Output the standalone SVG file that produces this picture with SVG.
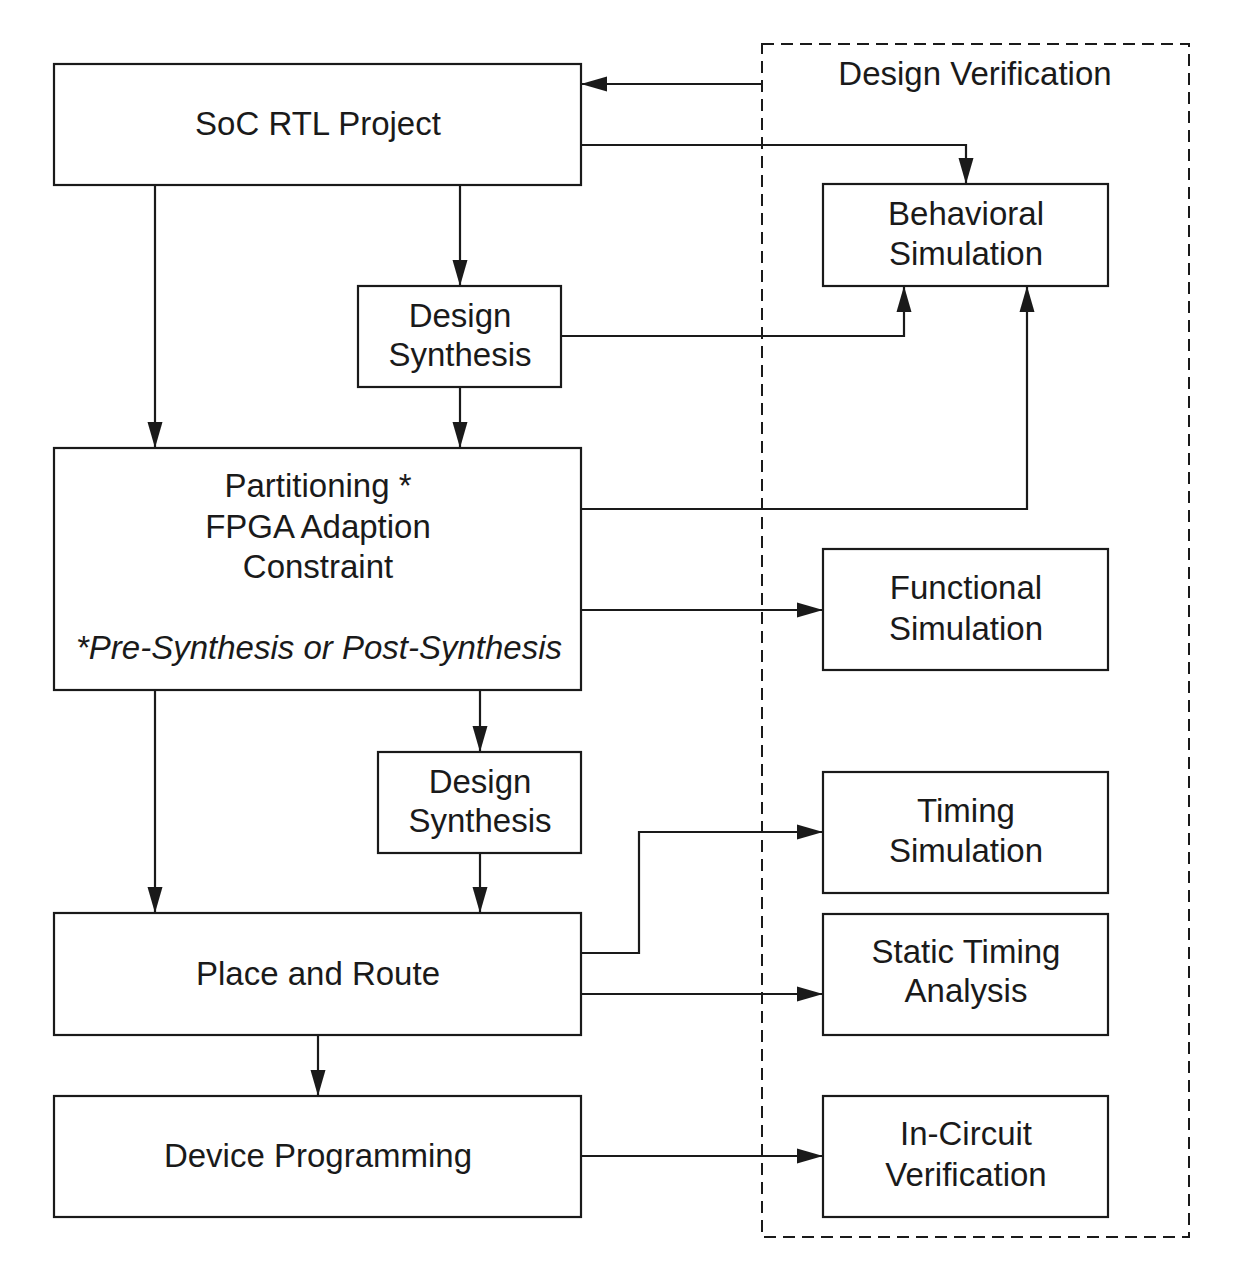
<svg xmlns="http://www.w3.org/2000/svg" width="1260" height="1277" viewBox="0 0 1260 1277">
<defs>
<style>
.box{fill:#fff;stroke:#1a1a1a;stroke-width:2.2}
.t{font-family:"Liberation Sans",Arial,sans-serif;font-size:33px;fill:#1a1a1a;text-anchor:middle}
.it{font-style:italic}
.c{fill:none;stroke:#1a1a1a;stroke-width:2.2;marker-end:url(#ah)}
.dash{fill:none;stroke:#1a1a1a;stroke-width:2;stroke-dasharray:12 7}
</style>
<marker id="ah" markerUnits="userSpaceOnUse" markerWidth="26" markerHeight="16" refX="26" refY="8" orient="auto">
<path d="M0,0.5 L26,8 L0,15.5 z" fill="#1a1a1a"/>
</marker>
</defs>
<rect width="1260" height="1277" fill="#fff"/>
<g id="verification-group">
<rect class="dash" x="762" y="44" width="427" height="1193"/>
<text class="t" x="975" y="85">Design Verification</text>
</g>
<g id="connectors">
<path class="c" d="M762,84 H581"/>
<path class="c" d="M581,145 H966 V184"/>
<path class="c" d="M155,185 V448"/>
<path class="c" d="M460,185 V286"/>
<path class="c" d="M460,387 V448"/>
<path class="c" d="M561,336 H904 V286"/>
<path class="c" d="M581,509 H1027 V286"/>
<path class="c" d="M581,610 H823"/>
<path class="c" d="M155,690 V913"/>
<path class="c" d="M480,690 V752"/>
<path class="c" d="M480,853 V913"/>
<path class="c" d="M581,953 H639 V832 H823"/>
<path class="c" d="M581,994 H823"/>
<path class="c" d="M318,1035 V1096"/>
<path class="c" d="M581,1156 H823"/>
</g>
<g id="soc-rtl-project">
<rect class="box" x="54" y="64" width="527" height="121"/>
<text class="t" x="318" y="135">SoC RTL Project</text>
</g>
<g id="design-synthesis-1">
<rect class="box" x="358" y="286" width="203" height="101"/>
<text class="t" x="460" y="327">Design</text>
<text class="t" x="460" y="366">Synthesis</text>
</g>
<g id="partitioning">
<rect class="box" x="54" y="448" width="527" height="242"/>
<text class="t" x="318" y="497">Partitioning *</text>
<text class="t" x="318" y="538">FPGA Adaption</text>
<text class="t" x="318" y="578">Constraint</text>
<text class="t it" x="319" y="659">*Pre-Synthesis or Post-Synthesis</text>
</g>
<g id="design-synthesis-2">
<rect class="box" x="378" y="752" width="203" height="101"/>
<text class="t" x="480" y="793">Design</text>
<text class="t" x="480" y="832">Synthesis</text>
</g>
<g id="place-and-route">
<rect class="box" x="54" y="913" width="527" height="122"/>
<text class="t" x="318" y="985">Place and Route</text>
</g>
<g id="device-programming">
<rect class="box" x="54" y="1096" width="527" height="121"/>
<text class="t" x="318" y="1167">Device Programming</text>
</g>
<g id="behavioral-simulation">
<rect class="box" x="823" y="184" width="285" height="102"/>
<text class="t" x="966" y="225">Behavioral</text>
<text class="t" x="966" y="265">Simulation</text>
</g>
<g id="functional-simulation">
<rect class="box" x="823" y="549" width="285" height="121"/>
<text class="t" x="966" y="599">Functional</text>
<text class="t" x="966" y="640">Simulation</text>
</g>
<g id="timing-simulation">
<rect class="box" x="823" y="772" width="285" height="121"/>
<text class="t" x="966" y="822">Timing</text>
<text class="t" x="966" y="862">Simulation</text>
</g>
<g id="static-timing-analysis">
<rect class="box" x="823" y="914" width="285" height="121"/>
<text class="t" x="966" y="963">Static Timing</text>
<text class="t" x="966" y="1002">Analysis</text>
</g>
<g id="in-circuit-verification">
<rect class="box" x="823" y="1096" width="285" height="121"/>
<text class="t" x="966" y="1145">In-Circuit</text>
<text class="t" x="966" y="1186">Verification</text>
</g>
</svg>
